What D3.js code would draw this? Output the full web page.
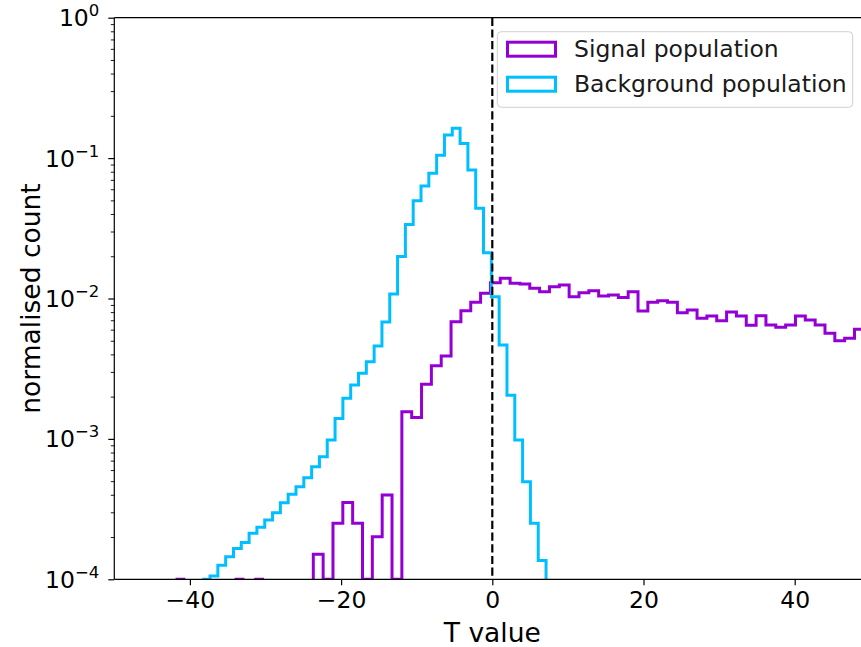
<!DOCTYPE html>
<html>
<head>
<meta charset="utf-8">
<script src="https://cdn.jsdelivr.net/npm/d3@7"></script>
<style>
  html, body { margin: 0; padding: 0; background: #fff; }
  svg { display: block; font-family: "DejaVu Sans", sans-serif; }
</style>
</head>
<body>
<svg id="chart" width="861" height="647"></svg>
<script>
// Histogram bins: first edge, bin width, and normalised count per bin (null = empty bin)
const signalStart = -41.9;
const signalWidth = 1.3016;
const signalCounts = [
  1e-4, null, null, null, null, null, 1e-4, null, 1e-4, null, null, null, null, null,
  1.51e-4, 1e-4, 2.51e-4, 3.53e-4, 2.51e-4, 1e-4, 2.01e-4, 3.98e-4, 1e-4,
  1.56e-3, 1.42e-3, 2.45e-3, 3.32e-3, 3.89e-3, 6.84e-3, 8.19e-3, 9.40e-3, 1.089e-2,
  1.297e-2, 1.393e-2, 1.283e-2, 1.268e-2, 1.182e-2, 1.118e-2, 1.213e-2, 1.248e-2,
  1.03e-2, 1.10e-2, 1.137e-2, 1.042e-2, 1.059e-2, 1.016e-2, 1.118e-2, 8.15e-3,
  9.40e-3, 9.64e-3, 9.40e-3, 7.92e-3, 8.28e-3, 7.23e-3, 7.50e-3, 6.95e-3, 8.01e-3,
  7.50e-3, 6.44e-3, 7.54e-3, 6.48e-3, 6.24e-3, 6.48e-3, 7.50e-3, 7.03e-3, 6.48e-3,
  5.65e-3, 5.00e-3, 5.21e-3, 6.04e-3, 6.2e-3
];

const backgroundStart = -38.37;
const backgroundWidth = 1.0336;
const backgroundCounts = [
  1.0e-4, 1.056e-4, 1.26e-4, 1.45e-4, 1.66e-4, 1.83e-4, 2.13e-4, 2.35e-4, 2.64e-4,
  2.98e-4, 3.51e-4, 4.03e-4, 4.57e-4, 5.29e-4, 6.34e-4, 7.47e-4, 9.82e-4, 1.40e-3,
  1.95e-3, 2.42e-3, 2.93e-3, 3.55e-3, 4.59e-3, 6.81e-3, 1.076e-2, 1.99e-2, 3.36e-2,
  4.97e-2, 6.33e-2, 7.80e-2, 0.105, 0.146, 0.163, 0.127, 8.23e-2, 4.39e-2, 2.12e-2,
  1.03e-2, 4.67e-3, 2.05e-3, 9.82e-4, 4.96e-4, 2.51e-4, 1.36e-4
];

const xTicks = [-40, -20, 0, 20, 40];
const yTicks = [1e-4, 1e-3, 1e-2, 1e-1, 1];
const yTickExponents = ["\u22124", "\u22123", "\u22122", "\u22121", "0"];
const legendLabels = ["Signal population", "Background population"];
const threshold = 0;

const colors = { signal: "#9400d3", background: "#00bfff" };

const plot = { left: 114.3, right: 870.3, top: 17.7, bottom: 579.3 };

const svg = d3.select("#chart");

const x = d3.scaleLinear().domain([-50, 50]).range([plot.left, plot.right]);
const y = d3.scaleLog().domain([1e-4, 1]).range([plot.bottom, plot.top]);

svg.append("defs").append("clipPath").attr("id", "plot-clip")
  .append("rect")
  .attr("x", plot.left).attr("y", plot.top)
  .attr("width", plot.right - plot.left).attr("height", plot.bottom - plot.top);

// Build a step outline for each run of non-empty bins
function stepPath(start, width, counts) {
  let d = "";
  let inRun = false;
  const yBottom = y(1e-4);
  counts.forEach((c, i) => {
    const x0 = x(start + i * width);
    const x1 = x(start + (i + 1) * width);
    if (c === null) {
      if (inRun) { d += `V${yBottom}`; inRun = false; }
      return;
    }
    const yy = y(Math.max(c, 1e-4));
    if (!inRun) { d += `M${x0},${yBottom}`; inRun = true; }
    d += `V${yy}H${x1}`;
  });
  if (inRun) d += `V${yBottom}`;
  return d;
}

const g = svg.append("g").attr("clip-path", "url(#plot-clip)");

g.append("path")
  .attr("d", stepPath(signalStart, signalWidth, signalCounts))
  .attr("fill", "none").attr("stroke", colors.signal)
  .attr("stroke-width", 3).attr("stroke-linejoin", "miter");

g.append("path")
  .attr("d", stepPath(backgroundStart, backgroundWidth, backgroundCounts))
  .attr("fill", "none").attr("stroke", colors.background)
  .attr("stroke-width", 3).attr("stroke-linejoin", "miter");

// Threshold line
g.append("line")
  .attr("x1", x(threshold)).attr("x2", x(threshold))
  .attr("y1", plot.top).attr("y2", plot.bottom)
  .attr("stroke", "#000").attr("stroke-width", 2.2)
  .attr("stroke-dasharray", "8.2,3.5");

// Spines
const spine = svg.append("g").attr("stroke", "#000").attr("stroke-width", 1.2).attr("fill", "none");
spine.append("line").attr("x1", plot.left).attr("x2", plot.left).attr("y1", plot.top).attr("y2", plot.bottom);
spine.append("line").attr("x1", plot.left).attr("x2", plot.right).attr("y1", plot.top).attr("y2", plot.top);
spine.append("line").attr("x1", plot.left).attr("x2", plot.right).attr("y1", plot.bottom).attr("y2", plot.bottom);
spine.append("line").attr("x1", plot.right).attr("x2", plot.right).attr("y1", plot.top).attr("y2", plot.bottom);

// X axis
const xAxis = d3.axisBottom(x).tickValues(xTicks).tickSize(6).tickPadding(6)
  .tickFormat(d => d < 0 ? "\u2212" + Math.abs(d) : String(d));
const gx = svg.append("g").attr("transform", `translate(0,${plot.bottom})`).call(xAxis);
gx.select(".domain").remove();
gx.selectAll(".tick line").attr("stroke", "#000").attr("stroke-width", 1.2);
gx.selectAll(".tick text").attr("fill", "#000").attr("font-size", 23.5)
  .attr("font-family", "DejaVu Sans");

// Y axis: major decades + minor ticks
const minorTicks = [];
for (let e = -4; e < 0; e++) for (let m = 2; m <= 9; m++) minorTicks.push(m * Math.pow(10, e));
const yMinor = d3.axisLeft(y).tickValues(minorTicks).tickSize(3.5).tickFormat("");
const gyMinor = svg.append("g").attr("transform", `translate(${plot.left},0)`).call(yMinor);
gyMinor.select(".domain").remove();
gyMinor.selectAll(".tick line").attr("stroke", "#000").attr("stroke-width", 0.9);

const yAxis = d3.axisLeft(y).tickValues(yTicks).tickSize(6).tickFormat("");
const gy = svg.append("g").attr("transform", `translate(${plot.left},0)`).call(yAxis);
gy.select(".domain").remove();
gy.selectAll(".tick line").attr("stroke", "#000").attr("stroke-width", 1.2);

const yLabels = svg.append("g").attr("font-family", "DejaVu Sans").attr("fill", "#000");
yTicks.forEach((v, i) => {
  const t = yLabels.append("text")
    .attr("x", plot.left - 15).attr("y", y(v) + 8.5)
    .attr("text-anchor", "end").attr("font-size", 23.5);
  t.append("tspan").text("10");
  t.append("tspan").attr("dy", -10).attr("font-size", 16.5).text(yTickExponents[i]);
});

// Axis titles
svg.append("text")
  .attr("x", (plot.left + 870.3) / 2).attr("y", 642)
  .attr("text-anchor", "middle").attr("font-size", 26.5).attr("fill", "#000")
  .text("T value");
svg.append("text")
  .attr("transform", `translate(40,${(plot.top + plot.bottom) / 2}) rotate(-90)`)
  .attr("text-anchor", "middle").attr("font-size", 26.5).attr("fill", "#000")
  .text("normalised count");

// Legend
const legend = svg.append("g");
legend.append("rect")
  .attr("x", 497.3).attr("y", 31.7).attr("width", 355.4).attr("height", 75.6)
  .attr("rx", 4).attr("fill", "#fff").attr("fill-opacity", 0.8)
  .attr("stroke", "#d0d0d0").attr("stroke-width", 1);
[colors.signal, colors.background].forEach((c, i) => {
  legend.append("rect")
    .attr("x", 507.5).attr("y", 42.2 + i * 35).attr("width", 48).attr("height", 14)
    .attr("fill", "none").attr("stroke", c).attr("stroke-width", 3);
  legend.append("text")
    .attr("x", 574).attr("y", 56.5 + i * 35)
    .attr("font-size", 23.5).attr("fill", "#1a1a1a")
    .text(legendLabels[i]);
});
</script>
</body>
</html>
